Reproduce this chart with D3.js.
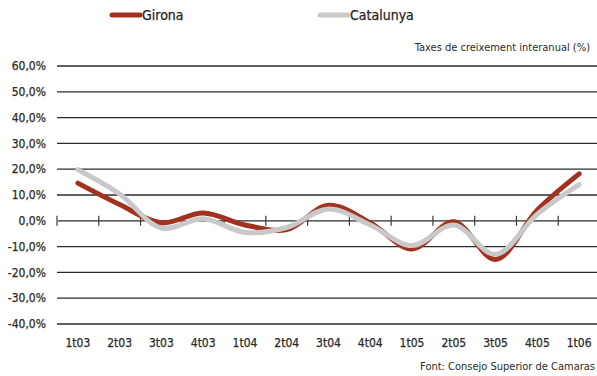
<!DOCTYPE html>
<html>
<head>
<meta charset="utf-8">
<script src="https://cdn.jsdelivr.net/npm/d3@7"></script>
<style>
  body { margin: 0; background: #fff; }
  svg { display: block; }
  text { stroke: #2b2b2b; stroke-width: 0.25px; }
</style>
</head>
<body>
<svg id="chart" width="597" height="376"></svg>
<script>
const categories = ['1t03', '2t03', '3t03', '4t03', '1t04', '2t04', '3t04', '4t04', '1t05', '2t05', '3t05', '4t05', '1t06']
const girona = [14.6, 6.3, -0.8, 3.0, -1.6, -3.4, 6.0, -0.8, -10.9, -0.4, -15.0, 4.2, 18.2]
const catalunya = [19.8, 10.4, -2.8, 0.8, -4.5, -2.6, 4.6, -1.6, -9.6, -1.6, -13.0, 2.6, 14.0]
const yTicks = [60, 50, 40, 30, 20, 10, 0, -10, -20, -30, -40]

const series = [
  { name: 'Girona', values: girona, color: '#a2311f' },
  { name: 'Catalunya', values: catalunya, color: '#c9c9c9' },
]

const svg = d3.select('#chart')
const font = 'DejaVu Sans Condensed, DejaVu Sans, sans-serif'

const x = d3.scaleBand().domain(categories).range([57, 600])
const y = d3.scaleLinear().domain([-40, 60]).range([324, 66])

// gridlines
svg.append('g')
  .selectAll('line')
  .data(yTicks.filter((d) => d !== 0))
  .join('line')
  .attr('x1', 57)
  .attr('x2', 597)
  .attr('y1', (d) => y(d))
  .attr('y2', (d) => y(d))
  .attr('stroke', '#2b2b2b')
  .attr('stroke-width', 1.3)

// y labels
svg.append('g')
  .selectAll('text')
  .data(yTicks)
  .join('text')
  .attr('x', 46)
  .attr('y', (d) => y(d))
  .attr('dy', '0.35em')
  .attr('text-anchor', 'end')
  .attr('font-family', font)
  .attr('font-size', 12)
  .attr('fill', '#2b2b2b')
  .text((d) => d.toFixed(1).replace('.', ',') + '%')

// zero axis with category ticks
svg.append('line')
  .attr('x1', 57).attr('x2', 597)
  .attr('y1', y(0)).attr('y2', y(0))
  .attr('stroke', '#2b2b2b')
  .attr('stroke-width', 1.3)

svg.append('g')
  .selectAll('line')
  .data(categories)
  .join('line')
  .attr('x1', (d) => x(d))
  .attr('x2', (d) => x(d))
  .attr('y1', y(0) - 5)
  .attr('y2', y(0) + 5)
  .attr('stroke', (d, i) => (i === 0 ? '#888' : '#3a3a3a'))
  .attr('stroke-width', (d, i) => (i === 0 ? 2 : 1.2))

// category labels
svg.append('g')
  .selectAll('text')
  .data(categories)
  .join('text')
  .attr('x', (d) => x(d) + x.bandwidth() / 2)
  .attr('y', 347)
  .attr('text-anchor', 'middle')
  .attr('font-family', font)
  .attr('font-size', 12)
  .attr('fill', '#2b2b2b')
  .text((d) => d)

// lines
const line = d3.line()
  .x((d, i) => x(categories[i]) + x.bandwidth() / 2)
  .y((d) => y(d))
  .curve(d3.curveCatmullRom.alpha(0.5))

svg.append('g')
  .selectAll('path')
  .data(series)
  .join('path')
  .attr('d', (d) => line(d.values))
  .attr('fill', 'none')
  .attr('stroke', (d) => d.color)
  .attr('stroke-width', 5)
  .attr('stroke-linecap', 'round')

// legend
const legend = svg.append('g')
  .selectAll('g')
  .data(series)
  .join('g')
  .attr('transform', (d, i) => `translate(${i === 0 ? 112 : 320},15)`)

legend.append('line')
  .attr('x1', 0).attr('x2', 28)
  .attr('stroke', (d) => d.color)
  .attr('stroke-width', 5)
  .attr('stroke-linecap', 'round')

legend.append('text')
  .attr('x', 30)
  .attr('dy', '0.35em')
  .attr('font-family', font)
  .attr('font-size', 14)
  .attr('fill', '#222')
  .text((d) => d.name)

svg.append('text')
  .attr('x', 590)
  .attr('y', 51)
  .attr('text-anchor', 'end')
  .attr('font-family', font)
  .attr('font-size', 11)
  .attr('fill', '#2b2b2b')
  .style('stroke-width', '0px')
  .text('Taxes de creixement interanual (%)')

svg.append('text')
  .attr('x', 595)
  .attr('y', 370)
  .attr('text-anchor', 'end')
  .attr('font-family', font)
  .attr('font-size', 11)
  .attr('fill', '#2b2b2b')
  .style('stroke-width', '0px')
  .text('Font: Consejo Superior de Camaras')
</script>
</body>
</html>
